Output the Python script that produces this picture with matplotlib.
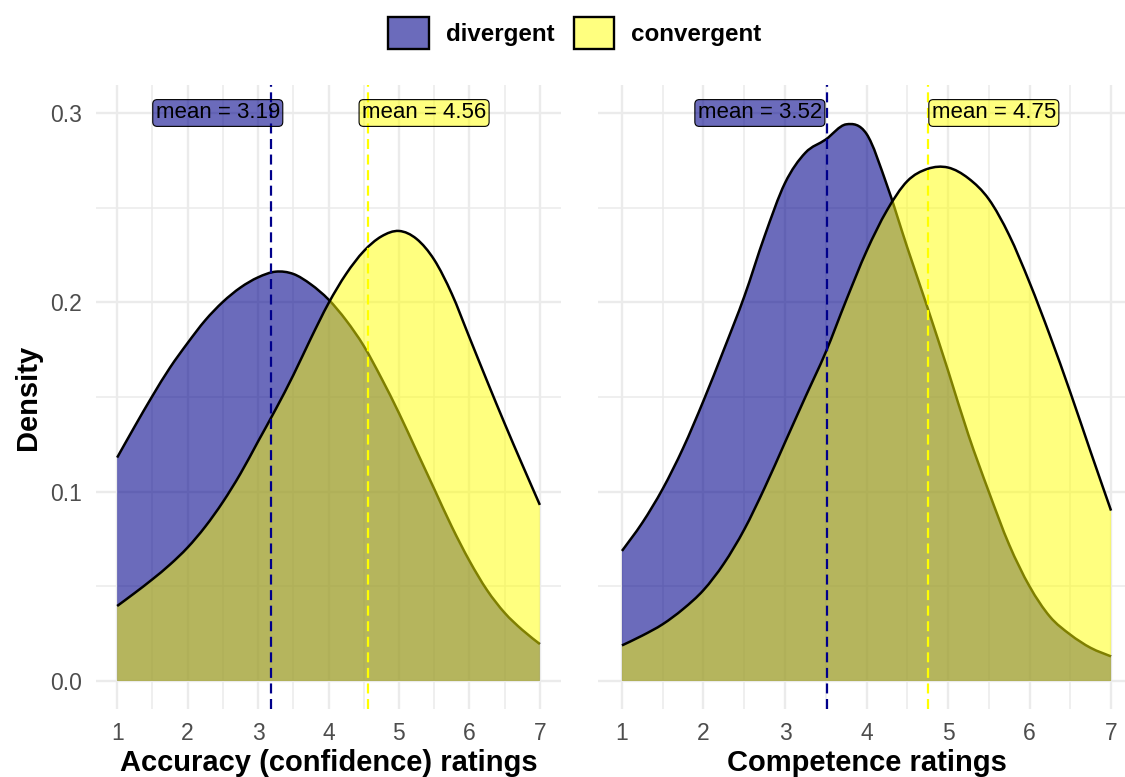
import matplotlib.pyplot as plt
from matplotlib.patches import Patch, PathPatch
from matplotlib.path import Path
from matplotlib.ticker import MultipleLocator

plt.rcParams['font.family'] = ['Liberation Sans', 'DejaVu Sans']

# rating grid the densities were read on
x_vals = [1.0, 1.25, 1.5, 1.75, 2.0, 2.25, 2.5, 2.75, 3.0, 3.25, 3.5, 3.75, 4.0,
          4.25, 4.5, 4.75, 5.0, 5.25, 5.5, 5.75, 6.0, 6.25, 6.5, 6.75, 7.0]

# accuracy (confidence) ratings
acc_div = [0.118, 0.1345, 0.1505, 0.1655, 0.1785, 0.1905, 0.2002, 0.2078, 0.2132, 0.2162, 0.2150, 0.2095, 0.2015,
           0.1905, 0.177, 0.160, 0.1415, 0.1215, 0.1015, 0.0815, 0.0635, 0.048, 0.036, 0.027, 0.0195]
acc_conv = [0.0396, 0.0465, 0.0537, 0.0615, 0.0705, 0.0815, 0.0945, 0.1095, 0.1265, 0.1435, 0.1615, 0.181, 0.1995,
            0.215, 0.227, 0.2348, 0.2377, 0.2335, 0.2225, 0.2045, 0.1815, 0.1585, 0.136, 0.1143, 0.093]

# competence ratings
comp_div = [0.0687, 0.0836, 0.1015, 0.123, 0.148, 0.175, 0.203, 0.235, 0.263, 0.279, 0.286, 0.294, 0.289,
            0.262, 0.229, 0.197, 0.164, 0.130, 0.100, 0.072, 0.050, 0.034, 0.0245, 0.0175, 0.013]
comp_conv = [0.0188, 0.024, 0.030, 0.038, 0.048, 0.062, 0.080, 0.102, 0.126, 0.150, 0.1737, 0.201, 0.227,
             0.2485, 0.264, 0.2705, 0.2712, 0.2655, 0.2545, 0.2355, 0.2105, 0.1825, 0.1525, 0.121, 0.090]

groups = ['divergent', 'convergent']
acc_means = [3.19, 4.56]
comp_means = [3.52, 4.75]
acc_label_x = [3.31, 4.475]
comp_label_x = [3.454, 4.80]
x_titles = ['Accuracy (confidence) ratings', 'Competence ratings']

fill_cols = [(0, 0, 0.545, 0.58), (1, 1, 0, 0.5)]
line_cols = ['#00008B', '#FFFF00']


# smooth curve through the read points (drawn as bezier segments)
def curve_path(xs, ys, closed=False):
    pts = list(zip(xs, ys))
    n = len(pts)
    verts = [pts[0]]
    codes = [Path.MOVETO]
    for i in range(n - 1):
        p0 = pts[i - 1] if i > 0 else pts[i]
        p1 = pts[i]
        p2 = pts[i + 1]
        p3 = pts[i + 2] if i + 2 < n else pts[i + 1]
        c1 = (p1[0] + (p2[0] - p0[0]) / 6, p1[1] + (p2[1] - p0[1]) / 6)
        c2 = (p2[0] - (p3[0] - p1[0]) / 6, p2[1] - (p3[1] - p1[1]) / 6)
        verts += [c1, c2, p2]
        codes += [Path.CURVE4] * 3
    if closed:
        verts += [(xs[-1], 0), (xs[0], 0), (xs[0], 0)]
        codes += [Path.LINETO, Path.LINETO, Path.CLOSEPOLY]
    return Path(verts, codes)


fig = plt.figure(figsize=(11.25, 7.77), dpi=100)
ax1 = fig.add_axes([96 / 1125, 1 - 709.4 / 777, 465 / 1125, 624.8 / 777])
ax2 = fig.add_axes([597.5 / 1125, 1 - 709.4 / 777, 538 / 1125, 624.8 / 777])

panels = [
    (ax1, [acc_div, acc_conv], acc_means, acc_label_x, x_titles[0]),
    (ax2, [comp_div, comp_conv], comp_means, comp_label_x, x_titles[1]),
]

for ax, dens, means, label_x, title in panels:
    ax.set_xlim(0.7, 7.3)
    ax.set_ylim(-0.015, 0.315)
    ax.xaxis.set_major_locator(MultipleLocator(1))
    ax.xaxis.set_minor_locator(MultipleLocator(0.5))
    ax.yaxis.set_major_locator(MultipleLocator(0.1))
    ax.yaxis.set_minor_locator(MultipleLocator(0.05))
    ax.grid(which='major', color='#EBEBEB', lw=1.7)
    ax.grid(which='minor', color='#EBEBEB', lw=1.1)
    ax.set_axisbelow(True)
    for s in ax.spines.values():
        s.set_visible(False)
    ax.tick_params(which='both', length=0, labelsize=16.5, labelcolor='#4D4D4D')
    ax.tick_params(axis='x', pad=9)
    ax.tick_params(axis='y', pad=10)
    ax.set_xticks([1, 2, 3, 4, 5, 6, 7])
    ax.set_yticks([0.0, 0.1, 0.2, 0.3])
    ax.set_yticklabels(['0.0', '0.1', '0.2', '0.3'])

    for i in range(2):
        ax.add_patch(PathPatch(curve_path(x_vals, dens[i], closed=True), fc=fill_cols[i], lw=0, zorder=2 + i))
        ax.add_patch(PathPatch(curve_path(x_vals, dens[i]), fill=False, ec='black', lw=1.8,
                               capstyle='butt', zorder=2 + i))

    for i in range(2):
        ax.axvline(means[i], color=line_cols[i], lw=1.6, ls=(0, (4.5, 2.5)), zorder=5)

    for i in range(2):
        ax.text(label_x[i], 0.3, 'mean = {:.2f}'.format(means[i]), fontsize=16,
                ha='right' if i == 0 else 'left', va='center', zorder=6,
                bbox=dict(boxstyle='round,pad=0.13,rounding_size=0.2', fc=fill_cols[i], ec='black', lw=0.8))

    ax.set_xlabel(title, fontsize=21, fontweight='bold', labelpad=3)

ax2.set_yticklabels([])

fig.text(28 / 1125, 1 - 397 / 777, 'Density', rotation=90, fontsize=21, fontweight='bold',
         ha='center', va='center')

handles = [Patch(facecolor=fill_cols[i], edgecolor='black', lw=1.7) for i in range(2)]
fig.legend(handles, groups, loc='center', bbox_to_anchor=(0.511, 1 - 33 / 777), ncol=2, frameon=False,
           prop={'weight': 'bold', 'size': 17.4}, handlelength=1.67, handleheight=1.67,
           handletextpad=0.7, columnspacing=0.8)

fig.savefig('out.png', dpi=100)
